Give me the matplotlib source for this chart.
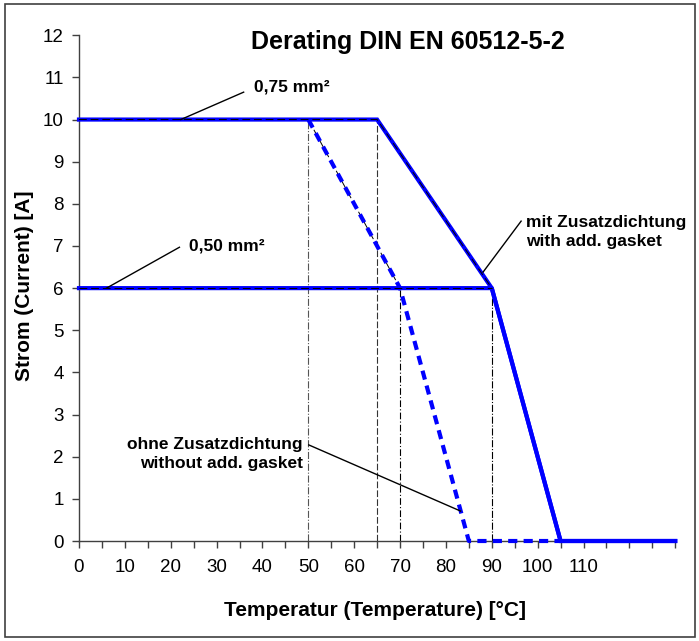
import matplotlib.pyplot as plt
from matplotlib.patches import Rectangle

plt.rcParams['font.family'] = ['Liberation Sans', 'DejaVu Sans']

# Kennlinien (Temperatur in °C, Strom in A)
t_075_mit = [0, 65, 90, 105, 130]
i_075_mit = [10, 10, 6, 0, 0]
t_050_mit = [0, 90, 105, 130]
i_050_mit = [6, 6, 0, 0]
t_ohne = [50, 70, 85, 105]
i_ohne = [10, 6, 0, 0]

# Hilfslinien (vertikal)
v_x = [50, 65, 70, 90]
v_top = [10, 10, 6, 6]
v_style = ['-.', (0, (6, 2)), (0, (6, 2, 1, 2)), '-.']
v_color = ['#555555', '#333333', 'black', 'black']

x_ticks = list(range(0, 131, 5))
x_labels = [str(v) if v % 10 == 0 and v <= 110 else '' for v in x_ticks]
y_ticks = list(range(0, 13))

blau = '#0000ff'

fig = plt.figure(figsize=(6.99, 6.41), dpi=100)
ax = fig.add_axes([0.113, 0.156, 0.853, 0.789])

# Rahmen um die Grafik
fig.patches.append(Rectangle((0.007, 0.006), 0.987, 0.988, transform=fig.transFigure,
                             fill=False, edgecolor='#404040', linewidth=1.2))

for x, top, ls, c in zip(v_x, v_top, v_style, v_color):
    ax.plot([x, x], [0, top], color=c, linewidth=0.8, linestyle=ls, zorder=1)

ax.plot(t_075_mit, i_075_mit, color=blau, linewidth=3, solid_joinstyle='miter', clip_on=False, zorder=3)
ax.plot(t_050_mit, i_050_mit, color=blau, linewidth=3, clip_on=False, zorder=3)
ax.plot(t_ohne, i_ohne, color=blau, linewidth=3, linestyle=(0, (2.2, 1.5)), clip_on=False, zorder=3)
# schwarze Strichlinien auf den Kennlinien
ax.plot(t_075_mit[:3], i_075_mit[:3], color='black', linewidth=0.7, linestyle=(0, (8, 4)), zorder=4)
ax.plot(t_050_mit[:2], i_050_mit[:2], color='black', linewidth=0.7, linestyle=(0, (8, 4)), zorder=4)
ax.plot(t_ohne[:2], i_ohne[:2], color='black', linewidth=0.7, linestyle=(0, (8, 4)), zorder=2)

ax.set_xlim(0, 130)
ax.set_ylim(0, 12)
ax.set_xticks(x_ticks)
ax.set_xticklabels(x_labels)
ax.set_yticks(y_ticks)
ax.tick_params(axis='both', direction='out', length=5, width=1, color='#404040',
               labelsize=13.5, pad=8)
ax.tick_params(axis='y', pad=6)
for s in ['top', 'right']:
    ax.spines[s].set_visible(False)
for s in ['left', 'bottom']:
    ax.spines[s].set_color('#404040')
    ax.spines[s].set_linewidth(1)

ax.text(71.8, 11.85, 'Derating DIN EN 60512-5-2', fontsize=18, fontweight='bold',
        ha='center', va='center')
fig.text(0.536, 0.047, 'Temperatur (Temperature) [°C]', fontsize=15, fontweight='bold',
         ha='center', va='center')
fig.text(0.035, 0.554, 'Strom (Current) [A]', fontsize=15, fontweight='bold',
         ha='center', va='center', rotation=90)

# Beschriftungen mit Hinweislinien
ax.plot([22.2, 35.9], [10, 10.65], color='black', linewidth=1, zorder=5)
ax.text(38.1, 10.77, '0,75 mm²', fontsize=12.5, fontweight='bold', va='center', ha='left')
ax.plot([6, 21.9], [6, 6.97], color='black', linewidth=1, zorder=5)
ax.text(24, 7.0, '0,50 mm²', fontsize=12.5, fontweight='bold', va='center', ha='left')
ax.plot([88.1, 96.4], [6.38, 7.59], color='black', linewidth=1, zorder=5)
ax.text(97.4, 7.33, 'mit Zusatzdichtung\nwith add. gasket', fontsize=12.5, fontweight='bold',
        va='center', ha='left', linespacing=1.3)
ax.plot([50.1, 83.2], [2.28, 0.71], color='black', linewidth=1, zorder=5)
ax.text(48.8, 2.06, 'ohne Zusatzdichtung\nwithout add. gasket', fontsize=12.5, fontweight='bold',
        va='center', ha='right', linespacing=1.3)

fig.savefig('out.png', dpi=100)
